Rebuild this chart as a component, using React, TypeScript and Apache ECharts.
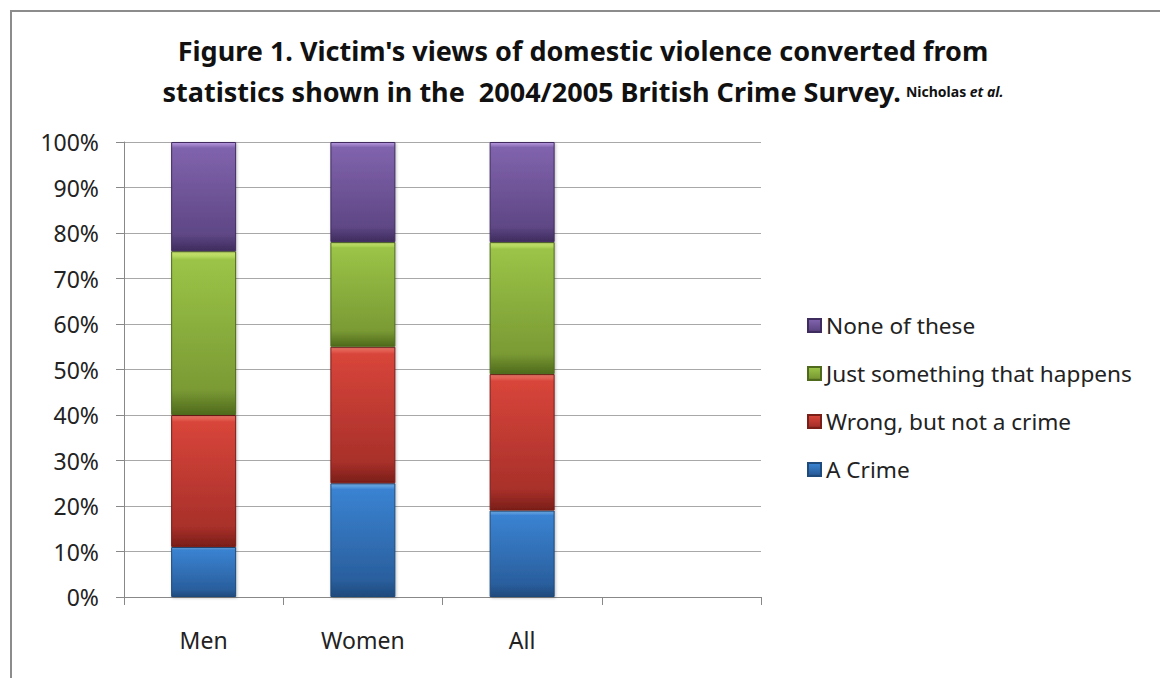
import React, { useEffect, useRef } from "react";
import * as echarts from "echarts";

const categories = ["Men", "Women", "All", ""];
const seriesNames = ["A Crime", "Wrong, but not a crime", "Just something that happens", "None of these"];
const aCrime = [11, 25, 19, null];
const wrongNotCrime = [29, 30, 30, null];
const justHappens = [36, 23, 29, null];
const noneOfThese = [24, 22, 22, null];
const yTicks = [0, 10, 20, 30, 40, 50, 60, 70, 80, 90, 100];

const palette = [
  { light: "#7ab8f0", base: "#3a83d2", dark: "#2a5f9e", edge: "#1f4a7c" },
  { light: "#f07a6c", base: "#d8453a", dark: "#a8302a", edge: "#7a1e18" },
  { light: "#d4f078", base: "#9bc447", dark: "#7a9a34", edge: "#4f6a1c" },
  { light: "#b89ae0", base: "#8063ad", dark: "#5f4785", edge: "#3f2c5e" },
];

const FONT = "'Noto Sans', 'Open Sans', sans-serif";

function grad(p: { light: string; base: string; dark: string; edge: string }) {
  return new echarts.graphic.LinearGradient(0, 0, 0, 1, [
    { offset: 0, color: p.light },
    { offset: 0.05, color: p.base },
    { offset: 0.85, color: p.dark },
    { offset: 1, color: p.edge },
  ]);
}

export default function App() {
  const ref = useRef<HTMLDivElement>(null);
  useEffect(() => {
    if (!ref.current) return;
    const chart = echarts.init(ref.current, undefined, { renderer: "svg" });
    const values = [aCrime, wrongNotCrime, justHappens, noneOfThese];
    chart.setOption({
      animation: false,
      backgroundColor: "#ffffff",
      title: {
        left: 578,
        top: 25,
        textAlign: "center",
        text:
          "{a|Figure 1. Victim's views of domestic violence converted from}\n{a|statistics shown in the  2004/2005 British Crime Survey.} {b|Nicholas }{c|et al.}",
        textStyle: {
          rich: {
            a: { fontFamily: FONT, fontWeight: "bold", fontSize: 27, color: "#111", lineHeight: 41 },
            b: { fontFamily: FONT, fontWeight: "bold", fontSize: 14, color: "#111", lineHeight: 41 },
            c: { fontFamily: FONT, fontWeight: "bold", fontStyle: "italic", fontSize: 14, color: "#111", lineHeight: 41 },
          },
        },
      },
      graphic: [
        {
          type: "polyline",
          shape: { points: [[11, 678], [11, 11], [1160, 11]] },
          style: { stroke: "#8c8c8c", lineWidth: 2, fill: "none" },
          silent: true,
        },
      ],
      legend: {
        orient: "vertical",
        left: 802,
        top: 309,
        itemGap: 25,
        itemWidth: 13,
        itemHeight: 13,
        icon: "rect",
        data: [...seriesNames].reverse(),
        textStyle: { fontFamily: FONT, fontSize: 22.6, color: "#222" },
      },
      grid: { left: 124, right: 399, top: 142, bottom: 81, containLabel: false },
      xAxis: {
        type: "category",
        data: categories,
        axisLine: { lineStyle: { color: "#888", width: 1 } },
        axisTick: { show: true, length: 8, lineStyle: { color: "#888" }, alignWithLabel: false },
        axisLabel: { fontFamily: FONT, fontSize: 23, color: "#222", margin: 31 },
        splitLine: { show: false },
      },
      yAxis: {
        type: "value",
        min: yTicks[0],
        max: yTicks[yTicks.length - 1],
        interval: 10,
        axisLine: { show: true, lineStyle: { color: "#888", width: 1 } },
        axisTick: { show: true, length: 8, lineStyle: { color: "#888" } },
        axisLabel: { fontFamily: FONT, fontSize: 23, color: "#222", margin: 25, formatter: "{value}%" },
        splitLine: { show: true, lineStyle: { color: "#a8a8a8", width: 1 } },
      },
      series: seriesNames.map((name, i) => ({
        name,
        type: "bar",
        stack: "total",
        barWidth: 65,
        data: values[i],
        itemStyle: {
          color: grad(palette[i]),
          borderColor: palette[i].edge,
          borderWidth: 1,
          shadowColor: "rgba(0,0,0,0.25)",
          shadowBlur: 3,
          shadowOffsetX: 1,
          shadowOffsetY: 1,
        },
      })),
    });
    return () => chart.dispose();
  }, []);
  return (
    <div
      ref={ref}
      style={{ position: "fixed", left: 0, top: 0, width: 1160, height: 678 }}
    />
  );
}
